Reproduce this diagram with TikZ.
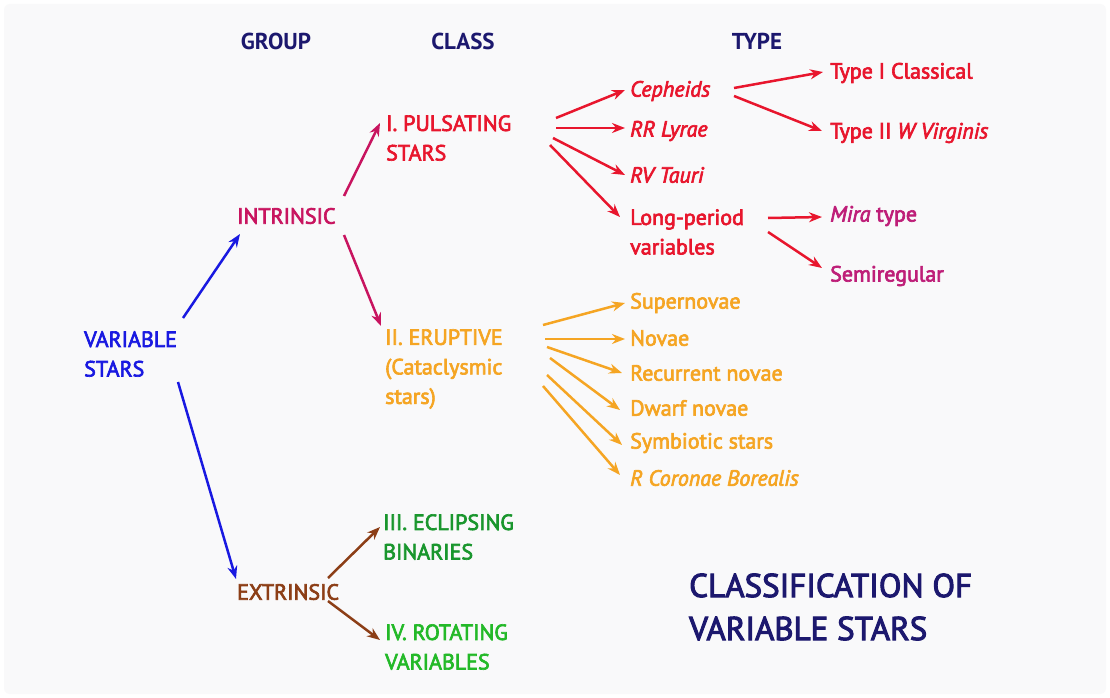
\documentclass[tikz,border=0pt]{standalone}
\usepackage{fontspec}
\setmainfont{PT Sans}
\newfontfamily\semib{PT Sans}[FakeBold=3]
\usetikzlibrary{arrows.meta,calc}
\definecolor{navy}{RGB}{28,24,110}
\definecolor{vblue}{RGB}{25,25,225}
\definecolor{crim}{RGB}{200,20,95}
\definecolor{sred}{RGB}{232,22,45}
\definecolor{mage}{RGB}{190,30,120}
\definecolor{orng}{RGB}{245,165,35}
\definecolor{brwn}{RGB}{140,62,22}
\definecolor{grn}{RGB}{25,150,45}
\definecolor{grnb}{RGB}{35,185,40}
\definecolor{bgc}{RGB}{249,249,250}
\begin{document}
\begin{tikzpicture}[x=1pt,y=-1pt,
  lbl/.style={anchor=west,inner sep=0pt,align=left,font=\semib\fontsize{22}{29.5}\selectfont},
  hdr/.style={inner sep=0pt,text=navy,font=\bfseries\fontsize{23}{26}\selectfont},
  arr/.style={-{Stealth[length=13pt,width=10pt]},line width=2.5pt}]
\fill[white] (0,0) rectangle (1110,698);
\fill[bgc,rounded corners=6pt] (4,4) rectangle (1106,694);
% headers
\node[hdr] (hg) at (276,41) {GROUP};
\node[hdr] (hc) at (463,41) {CLASS};
\node[hdr] (ht) at (757,41) {TYPE};
% group level
\node[lbl,text=vblue] (vs) at (84,354) {VARIABLE\\STARS};
\node[lbl,text=crim] (in) at (237,216) {INTRINSIC};
\node[lbl,text=brwn] (ex) at (237,592) {EXTRINSIC};
% class level
\node[lbl,text=sred] (ps) at (386,138) {I. PULSATING\\STARS};
\node[lbl,text=orng] (er) at (385,369) {II. ERUPTIVE\\(Cataclysmic\\stars)};
\node[lbl,text=grn] (ec) at (383,537) {III. ECLIPSING\\BINARIES};
\node[lbl,text=grnb] (ro) at (385,647) {IV. ROTATING\\VARIABLES};
% types (pulsating)
\node[lbl,text=sred] (ce) at (630,91) {\itshape Cepheids};
\node[lbl,text=sred] (rr) at (630,131) {\itshape RR Lyrae};
\node[lbl,text=sred] (rv) at (630,175) {\itshape RV Tauri};
\node[lbl,text=sred] (lp) at (630,232) {Long-period\\variables};
\node[lbl,text=sred] (t1) at (830,73) {Type I Classical};
\node[lbl,text=sred] (t2) at (830,133) {Type II \textit{W Virginis}};
\node[lbl,text=mage] (mi) at (830,216) {\textit{Mira} type};
\node[lbl,text=mage] (sr) at (830,276) {Semiregular};
% types (eruptive)
\node[lbl,text=orng] (sn) at (630,303) {Supernovae};
\node[lbl,text=orng] (no) at (630,338) {Novae};
\node[lbl,text=orng] (rn) at (630,373) {Recurrent novae};
\node[lbl,text=orng] (dn) at (630,408) {Dwarf novae};
\node[lbl,text=orng] (sy) at (630,443) {Symbiotic stars};
\node[lbl,text=orng] (rc) at (630,478) {\itshape R Coronae Borealis};
% title
\node[anchor=west,inner sep=0pt,align=left,text=navy,font=\semib\fontsize{33}{43}\selectfont] (ti) at (689,607) {CLASSIFICATION OF\\VARIABLE STARS};
% connectors
\draw[arr,vblue] ([shift={(99,-36)}]vs.west) -- ([shift={(3,18)}]in.west);
\draw[arr,vblue] ([shift={(94,28)}]vs.west) -- ([shift={(-1,-13)}]ex.west);
\draw[arr,crim] ([shift={(107,-20)}]in.west) -- ([shift={(-6,-15)}]ps.west);
\draw[arr,crim] ([shift={(107,19)}]in.west) -- ([shift={(-4,-43)}]er.west);
\draw[arr,brwn] ([shift={(91,-14)}]ex.west) -- ([shift={(-3,-10)}]ec.west);
\draw[arr,brwn] ([shift={(91,9)}]ex.west) -- ([shift={(-5,-7)}]ro.west);
\draw[arr,sred] ([shift={(170,-20)}]ps.west) -- ([shift={(-5,-1)}]ce.west);
\draw[arr,sred] ([shift={(170,-10)}]ps.west) -- ([shift={(-5,-3)}]rr.west);
\draw[arr,sred] ([shift={(167,0)}]ps.west) -- ([shift={(-5,0)}]rv.west);
\draw[arr,sred] ([shift={(164,7)}]ps.west) -- ([shift={(-10,-15)}]lp.west);
\draw[arr,sred] ([shift={(104,-3)}]ce.west) -- ([shift={(-7,-1)}]t1.west);
\draw[arr,sred] ([shift={(104,5)}]ce.west) -- ([shift={(-8,-2)}]t2.west);
\draw[arr,sred] ([shift={(138,-14)}]lp.west) -- ([shift={(-8,1)}]mi.west);
\draw[arr,sred] ([shift={(138,0)}]lp.west) -- ([shift={(-8,-8)}]sr.west);
\draw[arr,orng] ([shift={(158,-44)}]er.west) -- ([shift={(-5,0)}]sn.west);
\draw[arr,orng] ([shift={(160,-30)}]er.west) -- ([shift={(-5,1)}]no.west);
\draw[arr,orng] ([shift={(162,-22)}]er.west) -- ([shift={(-8,0)}]rn.west);
\draw[arr,orng] ([shift={(165,-11)}]er.west) -- ([shift={(-10,2)}]dn.west);
\draw[arr,orng] ([shift={(162,6)}]er.west) -- ([shift={(-8,2)}]sy.west);
\draw[arr,orng] ([shift={(158,17)}]er.west) -- ([shift={(-10,-3)}]rc.west);
\end{tikzpicture}
\end{document}
